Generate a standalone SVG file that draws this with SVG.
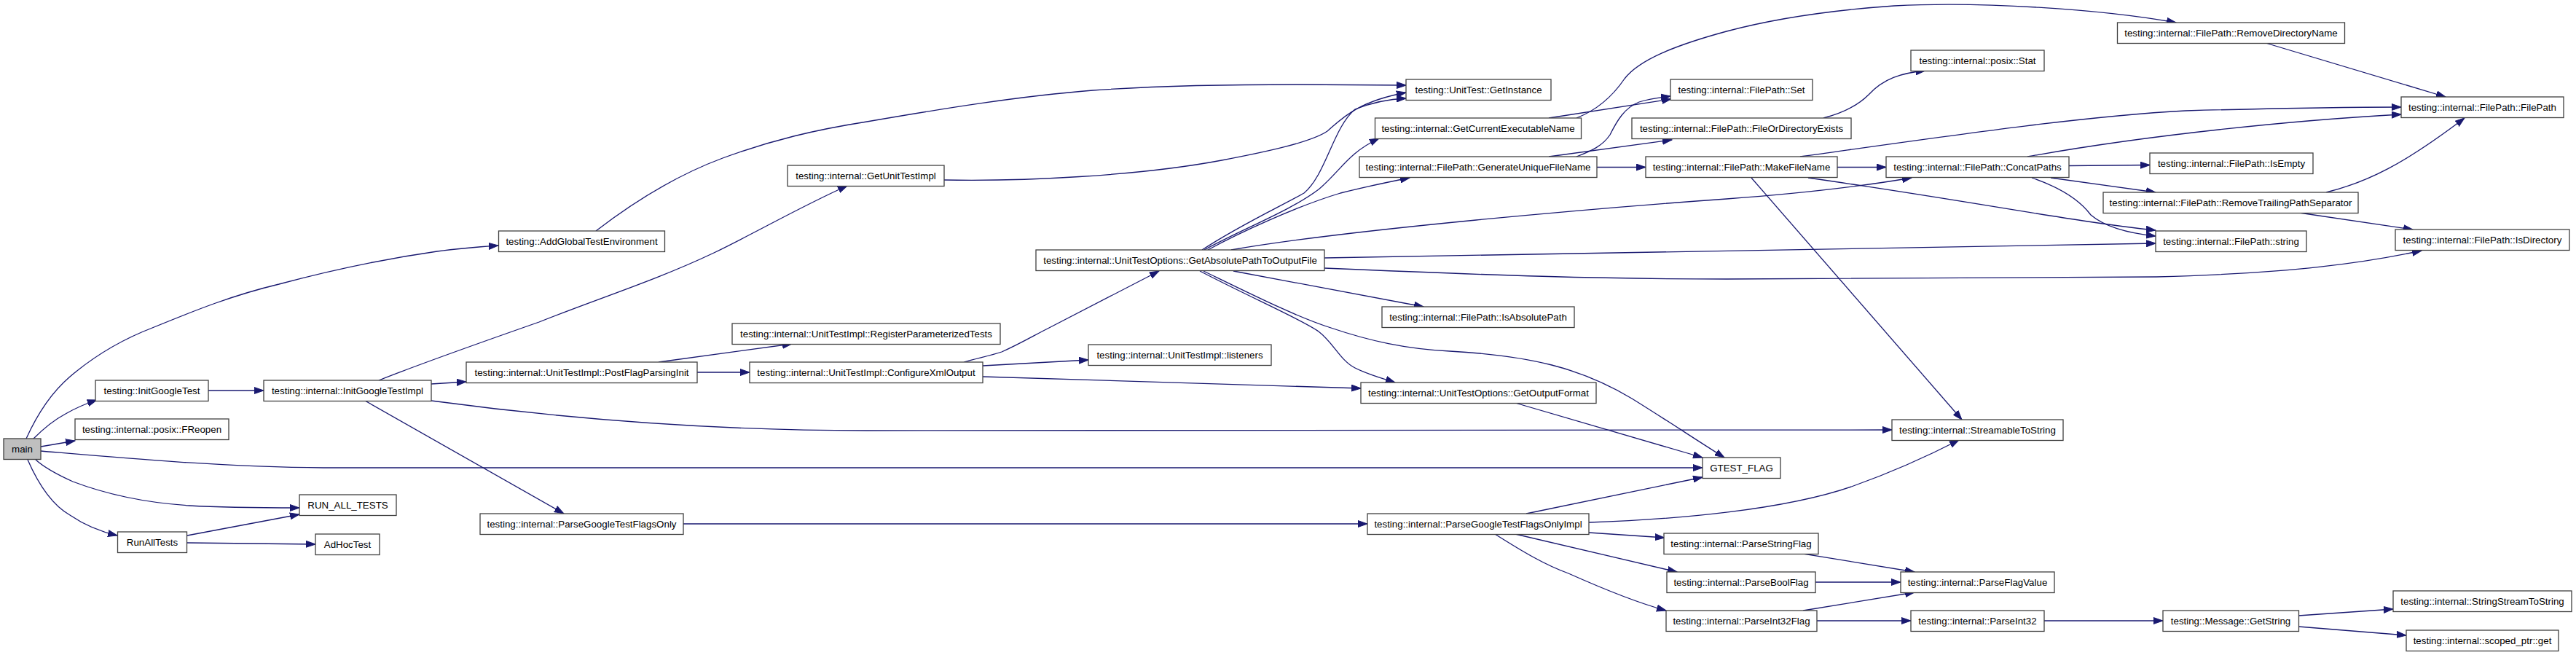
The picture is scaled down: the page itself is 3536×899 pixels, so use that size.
<svg xmlns="http://www.w3.org/2000/svg" width="3536" height="899" viewBox="0 0 3536 899">
<style>
.node rect{fill:#ffffff;stroke:#404040;stroke-width:1.3}
.node text{font-family:"Liberation Sans",Arial,Helvetica,sans-serif;font-size:13.33px;text-anchor:middle;fill:#000000}
#n_main rect{fill:#bfbfbf}
.edges path{fill:none;stroke:#191970;stroke-width:1.3;marker-end:url(#arr)}
</style>
<defs>
<marker id="arr" markerUnits="userSpaceOnUse" markerWidth="14" markerHeight="10" refX="13" refY="5" orient="auto">
<path d="M0,0.5 L13,5 L0,9.5 z" fill="#191970" stroke="#191970" stroke-width="1"/>
</marker>
</defs>
<rect x="0" y="0" width="3536" height="899" fill="#ffffff"/>
<g class="edges">
<path d="M36,602 C55,560 75,535 96,517 C130,488 170,465 209,450 C270,425 320,405 383,390 C450,372 530,355 600,345 C630,341 655,339 684,337"/>
<path d="M46,602 C60,588 75,576 90,568 C102,561 115,555 133,549"/>
<path d="M56,613 L103,605"/>
<path d="M56,619 C150,627 300,641 444,642 L2337,642"/>
<path d="M49,631 C60,641 80,652 100,661 C150,680 200,690 260,694 C310,697 360,697 411,697"/>
<path d="M38,631 C55,670 75,695 96,707 C115,720 135,729 161,735"/>
<path d="M286,536 L362,536"/>
<path d="M257,735 L411,706"/>
<path d="M257,745 L433,747"/>
<path d="M818,317 C870,277 930,240 992,217 C1060,192 1120,178 1190,167 C1300,148 1400,132 1500,124 C1600,117 1700,116 1780,116 L1930,117"/>
<path d="M520,522 C580,498 660,470 740,442 C820,410 900,385 980,347 C1040,318 1100,283 1163,255"/>
<path d="M592,527 L640,524"/>
<path d="M592,550 C800,578 1000,591 1190,591 L2597,590"/>
<path d="M501,550 L774,705"/>
<path d="M1296,247 C1400,249 1560,242 1677,220 C1740,208 1800,195 1822,180 C1840,165 1860,140 1930,127"/>
<path d="M904,497 L1087,472"/>
<path d="M957,511 L1029,511"/>
<path d="M1323,497 C1340,492 1360,488 1375,483 C1400,472 1420,460 1440,450 L1591,372"/>
<path d="M1349,502 L1494,494"/>
<path d="M1349,517 L1868,533"/>
<path d="M938,719 L1877,719"/>
<path d="M1650,343 C1700,310 1760,282 1790,265 C1820,240 1830,175 1860,150 C1885,140 1905,136 1930,135"/>
<path d="M1653,343 C1710,312 1770,290 1810,260 C1840,235 1850,210 1893,190"/>
<path d="M1658,343 C1700,320 1780,283 1840,265 C1880,255 1910,249 1935,244"/>
<path d="M1690,343 C1850,315 2200,285 2370,273 C2480,265 2560,255 2624,244"/>
<path d="M1818,354 C2100,350 2500,345 2959,334"/>
<path d="M1818,368 C2050,378 2200,383 2370,383 L2960,380 C3150,375 3250,360 3324,344"/>
<path d="M1693,372 L1954,421"/>
<path d="M1647,372 C1720,410 1790,440 1810,455 C1830,470 1840,495 1860,505 C1880,515 1900,520 1915,525"/>
<path d="M1652,372 C1720,405 1780,435 1827,450 C1880,468 1930,479 1990,482 C2100,488 2170,505 2240,547 C2290,578 2330,605 2367,628"/>
<path d="M2080,553 L2337,628"/>
<path d="M2095,705 L2337,655"/>
<path d="M2181,717 C2300,713 2450,700 2544,667 C2600,647 2650,624 2689,604"/>
<path d="M2181,731 L2285,738"/>
<path d="M2080,733 L2302,785"/>
<path d="M2052,733 C2090,757 2120,775 2153,787 C2200,808 2250,828 2287,838"/>
<path d="M2475,760 L2628,785"/>
<path d="M2492,799 L2609,799"/>
<path d="M2475,838 L2628,813"/>
<path d="M2494,852 L2623,852"/>
<path d="M2806,852 L2969,852"/>
<path d="M3155,845 L3285,836"/>
<path d="M3155,860 L3303,872"/>
<path d="M2126,162 L2294,136"/>
<path d="M2164,162 C2195,150 2215,130 2230,108 C2250,82 2300,62 2370,43 C2430,27 2500,15 2600,8 C2720,2 2880,12 2987,31"/>
<path d="M2126,215 L2295,192"/>
<path d="M2164,215 C2185,207 2200,200 2210,185 C2220,165 2230,148 2250,140 C2262,136 2276,134 2293,132"/>
<path d="M2192,229.5 L2259,229.5"/>
<path d="M2503,162 C2530,155 2550,145 2565,130 C2585,108 2610,100 2643,97"/>
<path d="M2522,229.5 L2589,229.5"/>
<path d="M2471,215 C2650,190 2850,160 3000,152 C3150,148 3230,147 3296,147"/>
<path d="M2482,244 C2700,275 2850,305 2959,316"/>
<path d="M2404,244 L2693,576"/>
<path d="M2840,227.5 L2951,226.5"/>
<path d="M2815,244 L2959,264"/>
<path d="M2789,244 C2830,258 2855,275 2870,295 C2890,312 2920,320 2959,324"/>
<path d="M2783,215 C2950,185 3150,165 3296,157"/>
<path d="M3110,59 L3357,133"/>
<path d="M3193,264 C3250,250 3300,225 3383,162"/>
<path d="M3156,292 L3312,315"/>
</g>
<g id="n_main" class="node"><rect x="5" y="602" width="51" height="28.5"/><text x="30.5" y="621">main</text></g>
<g id="n_initgt" class="node"><rect x="131" y="522" width="155" height="28.5"/><text x="208.5" y="541">testing::InitGoogleTest</text></g>
<g id="n_freopen" class="node"><rect x="103" y="575" width="211" height="28.5"/><text x="208.5" y="594">testing::internal::posix::FReopen</text></g>
<g id="n_runall" class="node"><rect x="411" y="679" width="133" height="28.5"/><text x="477.5" y="698">RUN_ALL_TESTS</text></g>
<g id="n_runalltests" class="node"><rect x="161.5" y="730" width="95" height="28.5"/><text x="209" y="749">RunAllTests</text></g>
<g id="n_adhoc" class="node"><rect x="433" y="733" width="88" height="28.5"/><text x="477" y="752">AdHocTest</text></g>
<g id="n_initgtimpl" class="node"><rect x="362" y="522" width="230" height="28.5"/><text x="477" y="541">testing::internal::InitGoogleTestImpl</text></g>
<g id="n_addglobal" class="node"><rect x="684.5" y="317" width="228" height="28.5"/><text x="798.5" y="336">testing::AddGlobalTestEnvironment</text></g>
<g id="n_getunittestimpl" class="node"><rect x="1081" y="227" width="215" height="28.5"/><text x="1188.5" y="246">testing::internal::GetUnitTestImpl</text></g>
<g id="n_register" class="node"><rect x="1005" y="444" width="368" height="28.5"/><text x="1189" y="463">testing::internal::UnitTestImpl::RegisterParameterizedTests</text></g>
<g id="n_postflag" class="node"><rect x="640" y="497" width="317" height="28.5"/><text x="798.5" y="516">testing::internal::UnitTestImpl::PostFlagParsingInit</text></g>
<g id="n_configxml" class="node"><rect x="1029" y="497" width="320" height="28.5"/><text x="1189" y="516">testing::internal::UnitTestImpl::ConfigureXmlOutput</text></g>
<g id="n_parseonly" class="node"><rect x="659" y="705" width="279" height="28.5"/><text x="798.5" y="724">testing::internal::ParseGoogleTestFlagsOnly</text></g>
<g id="n_getabs" class="node"><rect x="1422" y="343" width="396" height="28.5"/><text x="1620" y="362">testing::internal::UnitTestOptions::GetAbsolutePathToOutputFile</text></g>
<g id="n_listeners" class="node"><rect x="1494" y="473" width="251" height="28.5"/><text x="1619.5" y="492">testing::internal::UnitTestImpl::listeners</text></g>
<g id="n_getinstance" class="node"><rect x="1930" y="109" width="199" height="28.5"/><text x="2029.5" y="128">testing::UnitTest::GetInstance</text></g>
<g id="n_getcurexe" class="node"><rect x="1887.5" y="162" width="283" height="28.5"/><text x="2029" y="181">testing::internal::GetCurrentExecutableName</text></g>
<g id="n_genunique" class="node"><rect x="1866" y="215" width="326" height="28.5"/><text x="2029" y="234">testing::internal::FilePath::GenerateUniqueFileName</text></g>
<g id="n_isabs" class="node"><rect x="1897" y="421" width="264" height="28.5"/><text x="2029" y="440">testing::internal::FilePath::IsAbsolutePath</text></g>
<g id="n_set" class="node"><rect x="2293" y="109" width="195" height="28.5"/><text x="2390.5" y="128">testing::internal::FilePath::Set</text></g>
<g id="n_fileordir" class="node"><rect x="2240" y="162" width="301" height="28.5"/><text x="2390.5" y="181">testing::internal::FilePath::FileOrDirectoryExists</text></g>
<g id="n_makefile" class="node"><rect x="2259" y="215" width="263" height="28.5"/><text x="2390.5" y="234">testing::internal::FilePath::MakeFileName</text></g>
<g id="n_outfmt" class="node"><rect x="1868" y="525" width="323" height="28.5"/><text x="2029.5" y="544">testing::internal::UnitTestOptions::GetOutputFormat</text></g>
<g id="n_gtestflag" class="node"><rect x="2337" y="628" width="107" height="28.5"/><text x="2390.5" y="647">GTEST_FLAG</text></g>
<g id="n_parseimpl" class="node"><rect x="1877" y="705" width="304" height="28.5"/><text x="2029" y="724">testing::internal::ParseGoogleTestFlagsOnlyImpl</text></g>
<g id="n_parsestring" class="node"><rect x="2284" y="732" width="212" height="28.5"/><text x="2390" y="751">testing::internal::ParseStringFlag</text></g>
<g id="n_parsebool" class="node"><rect x="2288" y="785" width="204" height="28.5"/><text x="2390" y="804">testing::internal::ParseBoolFlag</text></g>
<g id="n_parseint32flag" class="node"><rect x="2287" y="838" width="207" height="28.5"/><text x="2390.5" y="857">testing::internal::ParseInt32Flag</text></g>
<g id="n_stat" class="node"><rect x="2623" y="69" width="183" height="28.5"/><text x="2714.5" y="88">testing::internal::posix::Stat</text></g>
<g id="n_concat" class="node"><rect x="2589" y="215" width="251" height="28.5"/><text x="2714.5" y="234">testing::internal::FilePath::ConcatPaths</text></g>
<g id="n_removedir" class="node"><rect x="2906.5" y="31" width="312" height="28.5"/><text x="3062.5" y="50">testing::internal::FilePath::RemoveDirectoryName</text></g>
<g id="n_isempty" class="node"><rect x="2951" y="210" width="224" height="28.5"/><text x="3063" y="229">testing::internal::FilePath::IsEmpty</text></g>
<g id="n_removetrail" class="node"><rect x="2887" y="264" width="350" height="28.5"/><text x="3062" y="283">testing::internal::FilePath::RemoveTrailingPathSeparator</text></g>
<g id="n_string" class="node"><rect x="2959" y="317" width="207" height="28.5"/><text x="3062.5" y="336">testing::internal::FilePath::string</text></g>
<g id="n_filepath" class="node"><rect x="3296" y="133" width="223" height="28.5"/><text x="3407.5" y="152">testing::internal::FilePath::FilePath</text></g>
<g id="n_isdir" class="node"><rect x="3288" y="315" width="239" height="28.5"/><text x="3407.5" y="334">testing::internal::FilePath::IsDirectory</text></g>
<g id="n_streamable" class="node"><rect x="2597" y="576" width="235" height="28.5"/><text x="2714.5" y="595">testing::internal::StreamableToString</text></g>
<g id="n_parseflagvalue" class="node"><rect x="2609" y="785" width="211" height="28.5"/><text x="2714.5" y="804">testing::internal::ParseFlagValue</text></g>
<g id="n_parseint32" class="node"><rect x="2623" y="838" width="183" height="28.5"/><text x="2714.5" y="857">testing::internal::ParseInt32</text></g>
<g id="n_getstring" class="node"><rect x="2969" y="838" width="186.5" height="28.5"/><text x="3062" y="857">testing::Message::GetString</text></g>
<g id="n_sstostring" class="node"><rect x="3285" y="811" width="245" height="28.5"/><text x="3407.5" y="830">testing::internal::StringStreamToString</text></g>
<g id="n_scoped" class="node"><rect x="3303" y="865" width="209" height="28.5"/><text x="3407.5" y="884">testing::internal::scoped_ptr::get</text></g>
</svg>
